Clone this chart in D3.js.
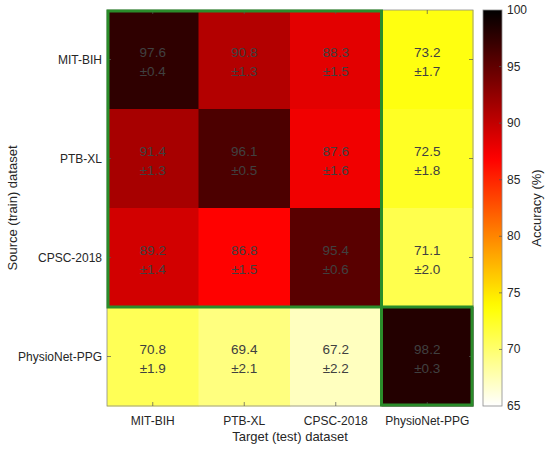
<!DOCTYPE html>
<html><head><meta charset="utf-8">
<script src="https://cdn.jsdelivr.net/npm/d3@7"></script>
<style>body{margin:0;background:#fff}</style>
</head><body>
<script>
const sources = ["MIT-BIH","PTB-XL","CPSC-2018","PhysioNet-PPG"];
const targets = ["MIT-BIH","PTB-XL","CPSC-2018","PhysioNet-PPG"];
const means = [
  [97.6, 90.8, 88.3, 73.2],
  [91.4, 96.1, 87.6, 72.5],
  [89.2, 86.8, 95.4, 71.1],
  [70.8, 69.4, 67.2, 98.2]
];
const stds = [
  [0.4, 1.3, 1.5, 1.7],
  [1.3, 0.5, 1.6, 1.8],
  [1.4, 1.5, 0.6, 2.0],
  [1.9, 2.1, 2.2, 0.3]
];
const cbTicks = [65,70,75,80,85,90,95,100];
const domain = [65,100];

const W=550,H=450;
const L=107,R=473,T=10,B=406;
const svg=d3.select("body").append("svg").attr("width",W).attr("height",H)
  .style("font-family","'Liberation Sans', Arial, sans-serif");

// reversed MATLAB hot colormap
function hot(v){
  const t=Math.max(0,Math.min(1,(domain[1]-v)/(domain[1]-domain[0])));
  const r=Math.min(1,t/0.375), g=Math.max(0,Math.min(1,(t-0.375)/0.375)), b=Math.max(0,Math.min(1,(t-0.75)/0.25));
  return d3.rgb(r*255,g*255,b*255).toString();
}

const x=d3.scaleBand().domain(targets).range([L,R]);
const y=d3.scaleBand().domain(sources).range([T,B]);

const cells=[];
sources.forEach((s,i)=>targets.forEach((t,j)=>cells.push({s,t,m:means[i][j],sd:stds[i][j]})));

svg.append("g").selectAll("rect").data(cells).join("rect")
  .attr("x",d=>x(d.t)).attr("y",d=>y(d.s))
  .attr("width",x.bandwidth()+0.5).attr("height",y.bandwidth()+0.5)
  .attr("fill",d=>hot(d.m));

const tg=svg.append("g").attr("fill","#404040").attr("font-size",13.5).attr("text-anchor","middle");
tg.selectAll("text.m").data(cells).join("text").attr("class","m")
  .attr("x",d=>x(d.t)+x.bandwidth()/2).attr("y",d=>y(d.s)+y.bandwidth()/2-3)
  .text(d=>d.m.toFixed(1));
tg.selectAll("text.s").data(cells).join("text").attr("class","s")
  .attr("x",d=>x(d.t)+x.bandwidth()/2).attr("y",d=>y(d.s)+y.bandwidth()/2+16)
  .text(d=>"±"+d.sd.toFixed(1));

// axes box and ticks
const axisCol="#262626";
const box=svg.append("g");
box.append("rect").attr("x",L).attr("y",T).attr("width",R-L).attr("height",B-T)
  .attr("fill","none").attr("stroke","#8a8a8a").attr("stroke-width",0.8);
targets.forEach(t=>{
  const cx=x(t)+x.bandwidth()/2;
  box.append("line").attr("x1",cx).attr("x2",cx).attr("y1",B).attr("y2",B-4).attr("stroke","#555").attr("stroke-width",0.7);
  box.append("line").attr("x1",cx).attr("x2",cx).attr("y1",T).attr("y2",T+4).attr("stroke","#555").attr("stroke-width",0.7);
});
sources.forEach(s=>{
  const cy=y(s)+y.bandwidth()/2;
  box.append("line").attr("x1",L).attr("x2",L+4).attr("y1",cy).attr("y2",cy).attr("stroke","#555").attr("stroke-width",0.7);
  box.append("line").attr("x1",R).attr("x2",R-4).attr("y1",cy).attr("y2",cy).attr("stroke","#555").attr("stroke-width",0.7);
});
svg.append("g").attr("font-size",12).attr("fill",axisCol).attr("text-anchor","middle")
  .selectAll("text").data(targets).join("text")
  .attr("x",t=>x(t)+x.bandwidth()/2).attr("y",B+19).text(t=>t);
svg.append("g").attr("font-size",12).attr("fill",axisCol).attr("text-anchor","end")
  .selectAll("text").data(sources).join("text")
  .attr("x",L-5).attr("y",s=>y(s)+y.bandwidth()/2+4).text(s=>s);

svg.append("text").attr("x",(L+R)/2).attr("y",B+35).attr("text-anchor","middle")
  .attr("font-size",13).attr("fill",axisCol).text("Target (test) dataset");
svg.append("text").attr("transform",`translate(17,${(T+B)/2}) rotate(-90)`).attr("text-anchor","middle")
  .attr("font-size",13).attr("fill",axisCol).text("Source (train) dataset");

// green highlight boxes
const green="#2a8c2a";
svg.append("rect").attr("x",x(targets[0])+1).attr("y",y(sources[0])+1)
  .attr("width",x(targets[3])-x(targets[0])-1).attr("height",y(sources[3])-y(sources[0])-1)
  .attr("fill","none").attr("stroke",green).attr("stroke-width",3);
svg.append("rect").attr("x",x(targets[3])).attr("y",y(sources[3]))
  .attr("width",x.bandwidth()-1).attr("height",y.bandwidth()-1)
  .attr("fill","none").attr("stroke",green).attr("stroke-width",3);

// colorbar
const cbL=483,cbR=502;
const cy=d3.scaleLinear().domain(domain).range([B,T]);
const defs=svg.append("defs");
const grad=defs.append("linearGradient").attr("id","cb").attr("x1",0).attr("y1",1).attr("x2",0).attr("y2",0);
d3.range(0,1.0001,0.02).forEach(f=>{
  grad.append("stop").attr("offset",f).attr("stop-color",hot(domain[0]+f*(domain[1]-domain[0])));
});
svg.append("rect").attr("x",cbL).attr("y",T).attr("width",cbR-cbL).attr("height",B-T)
  .attr("fill","url(#cb)").attr("stroke","#8a8a8a").attr("stroke-width",0.8);
const cg=svg.append("g");
cbTicks.forEach(v=>{
  if(v>domain[0]&&v<domain[1]) cg.append("line").attr("x1",cbR-3).attr("x2",cbR).attr("y1",cy(v)).attr("y2",cy(v)).attr("stroke","#555").attr("stroke-width",0.7);
  cg.append("text").attr("x",cbR+5).attr("y",cy(v)+4).attr("font-size",12).attr("fill",axisCol).text(v);
});
svg.append("text").attr("transform",`translate(541,${(T+B)/2}) rotate(-90)`).attr("text-anchor","middle")
  .attr("font-size",13).attr("fill",axisCol).text("Accuracy (%)");
</script>
</body></html>
